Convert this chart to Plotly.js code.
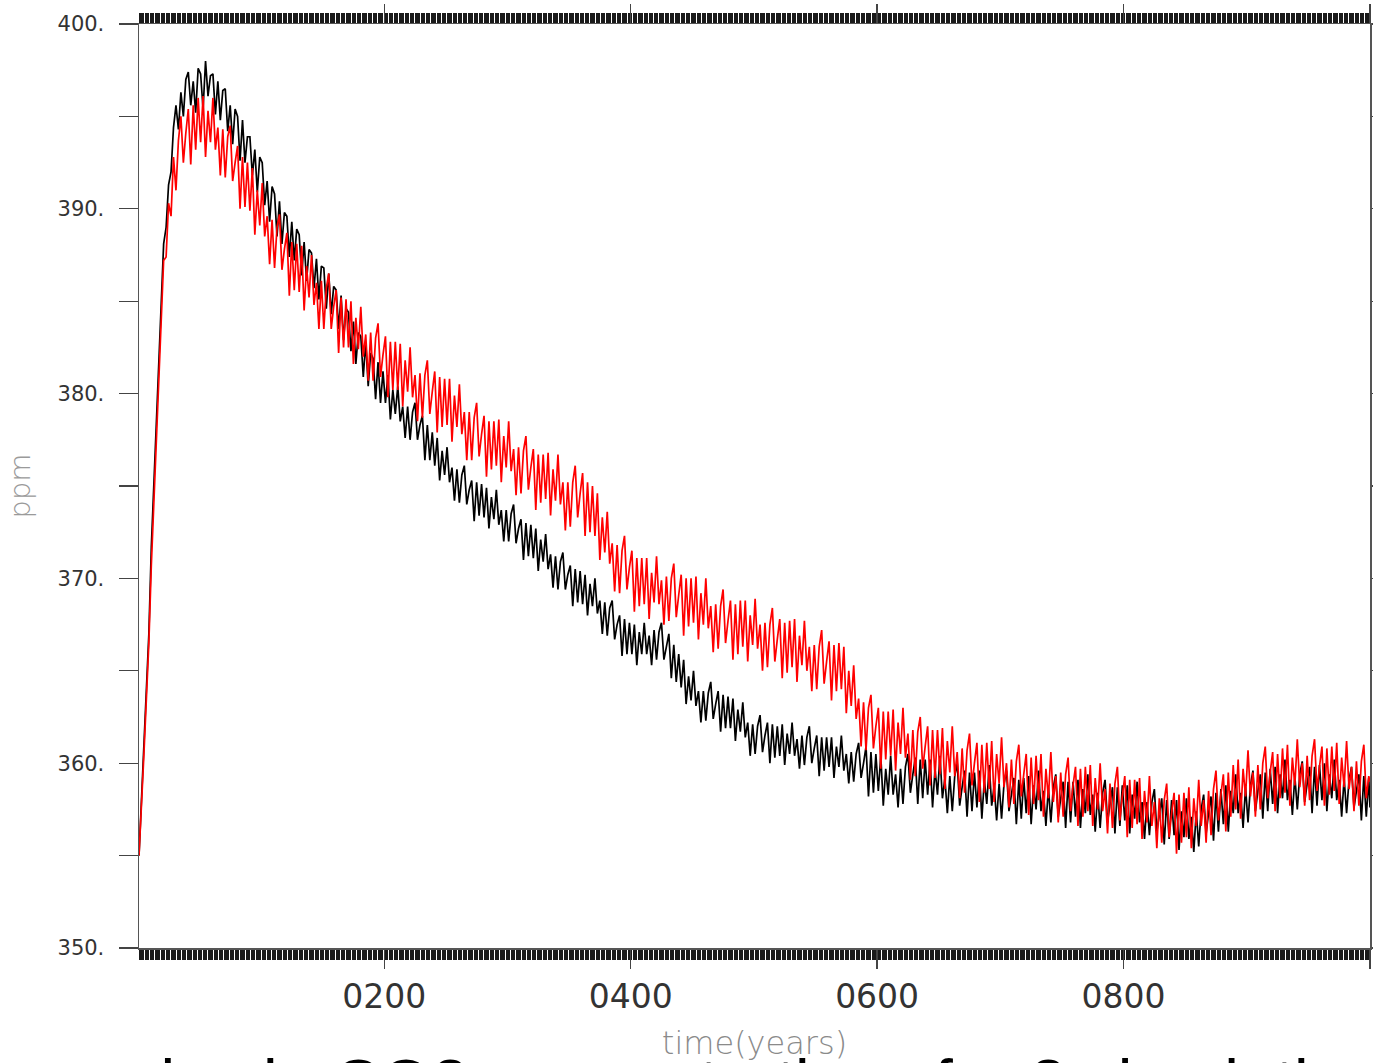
<!DOCTYPE html>
<html>
<head>
<meta charset="utf-8">
<script src="https://cdn.plot.ly/plotly-3.0.1.min.js"></script>
<style>
html,body{margin:0;padding:0;background:#fff;}
#chart{width:1373px;height:1063px;}
</style>
</head>
<body>
<div id="chart"></div>
<script>
// Sample years (every 2 years from year 1, plus year 1000)
const years = [];
for (let y = 1; y <= 999; y += 2) years.push(y);
years.push(1000);

// Simulation 1 (black) CO2, ppm
const co2Black = [
355.0, 358.0, 361.0, 364.0, 367.0,  371.7, 375.1, 378.5, 381.9, 385.3,
388.1, 389.0, 391.3, 392.0, 394.4,  395.6, 394.3, 396.3, 395.0, 397.0,
397.4, 395.6, 396.9, 395.2, 397.6,  397.3, 395.4, 398.0, 396.1, 397.2,
397.3, 395.1, 396.9, 394.8, 396.4,  396.5, 394.2, 395.6, 393.5, 395.4,
395.0, 392.6, 394.8, 392.5, 393.9,  393.9, 391.8, 393.2, 390.9, 392.8,
392.5, 390.2, 391.5, 389.3, 391.2,  390.8, 388.5, 390.4, 388.1, 389.8,
389.6, 387.4, 389.3, 387.2, 388.9,  388.6, 386.4, 388.2, 386.1, 387.8,
387.6, 385.7, 387.3, 385.1, 386.9,  386.8, 384.6, 386.5, 384.3, 385.8,
385.6, 383.5, 385.3, 382.9, 384.6,  384.4, 382.3, 383.9, 381.6, 383.3,
383.1, 380.9, 382.8, 380.4, 382.2,  381.9, 379.7, 381.7, 379.5, 381.2,
379.5, 381.0, 378.6, 380.2, 378.9,  380.4, 378.5, 379.3, 377.6, 379.3,
377.5, 379.0, 379.5, 377.5, 378.3,  378.8, 376.4, 378.3, 376.4, 377.9,
376.1, 377.6, 375.3, 376.9, 375.6,  377.1, 375.2, 376.0, 374.2, 375.9,
374.1, 375.6, 376.1, 374.0, 374.8,  375.3, 373.1, 375.2, 373.4, 375.1,
373.3, 374.9, 372.7, 374.4, 373.2,  374.8, 372.9, 373.7, 372.0, 373.7,
372.0, 373.5, 374.0, 371.9, 372.7,  373.2, 371.0, 373.0, 371.2, 372.9,
371.1, 372.7, 370.4, 372.1, 370.9,  372.4, 370.5, 371.3, 369.5, 371.2,
369.4, 370.9, 371.4, 369.4, 370.2,  370.7, 368.5, 370.5, 368.7, 370.4,
368.6, 370.2, 368.0, 369.7, 368.5,  370.0, 368.1, 368.8, 367.0, 368.7,
366.9, 368.4, 368.8, 366.7, 367.5,  368.0, 365.8, 367.8, 365.9, 367.6,
365.9, 367.5, 365.3, 367.1, 365.9,  367.6, 365.9, 366.9, 365.3, 367.2,
365.6, 367.1, 367.6, 365.6, 366.4,  367.0, 364.6, 366.4, 364.4, 365.9,
364.1, 365.6, 363.2, 364.7, 363.4,  365.0, 363.1, 363.9, 362.2, 363.9,
362.3, 363.8, 364.4, 362.4, 363.2,  363.9, 361.7, 363.7, 361.9, 363.6,
361.9, 363.5, 361.2, 362.9, 361.7,  363.3, 361.4, 362.2, 360.4, 362.1,
360.5, 362.0, 362.6, 360.6, 361.5,  362.2, 360.0, 362.1, 360.3, 362.0,
360.4, 362.1, 359.9, 361.6, 360.5,  362.2, 360.4, 361.3, 359.7, 361.5,
359.9, 361.4, 362.0, 360.0, 360.8,  361.5, 359.3, 361.4, 359.6, 361.4,
359.8, 361.4, 359.2, 360.9, 359.8,  361.5, 359.6, 360.5, 358.9, 360.6,
359.0, 360.5, 361.1, 359.2, 360.0,  360.9, 358.2, 360.6, 358.4, 360.5,
358.5, 360.4, 357.7, 359.7, 358.3,  360.4, 358.3, 359.4, 357.6, 359.7,
357.8, 359.8, 360.5, 358.4, 359.4,  360.3, 357.8, 360.2, 358.1, 360.2,
358.3, 360.2, 357.6, 359.7, 358.3,  360.4, 358.1, 359.2, 357.3, 359.3,
357.4, 359.3, 360.0, 357.7, 358.7,  359.6, 357.1, 359.5, 357.4, 359.5,
357.6, 359.6, 357.0, 359.1, 357.8,  359.9, 357.7, 358.8, 356.9, 358.9,
357.0, 358.9, 359.6, 357.4, 358.3,  359.2, 356.7, 359.1, 357.0, 359.2,
357.3, 359.3, 356.7, 358.8, 357.5,  359.6, 357.4, 358.5, 356.6, 358.7,
356.8, 358.7, 359.4, 357.1, 358.1,  359.0, 356.5, 359.0, 356.8, 359.0,
357.1, 359.1, 356.5, 358.6, 357.3,  359.4, 357.2, 358.3, 356.3, 358.4,
356.5, 358.4, 359.1, 356.8, 357.8,  358.7, 356.2, 358.7, 356.6, 358.8,
356.9, 358.8, 356.2, 358.3, 357.0,  359.0, 356.8, 357.9, 355.9, 357.9,
356.1, 357.9, 358.6, 356.3, 357.2,  358.1, 355.6, 358.0, 355.9, 358.0,
356.1, 358.0, 355.3, 357.4, 356.0,  358.1, 355.9, 357.1, 355.2, 357.4,
355.5, 357.5, 358.3, 356.2, 357.3,  358.2, 355.8, 358.4, 356.3, 358.6,
356.7, 358.8, 356.3, 358.5, 357.3,  359.4, 357.3, 358.4, 356.5, 358.7,
356.8, 358.8, 359.6, 357.4, 358.5,  359.4, 357.0, 359.5, 357.4, 359.7,
357.8, 359.8, 357.3, 359.4, 358.1,  360.2, 358.0, 359.1, 357.2, 359.3,
357.5, 359.4, 360.1, 357.9, 358.9,  359.8, 357.3, 359.8, 357.7, 359.9,
358.0, 360.0, 357.4, 359.4, 358.1,  360.2, 358.0, 359.1, 357.1, 359.2,
357.3, 359.1, 359.8, 357.6, 358.5,  359.4, 356.9, 359.3, 357.1, 359.2,
357.6
];

// Simulation 2 (red) CO2, ppm
const co2Red = [
355.0, 357.5, 360.5, 363.5, 366.5,  370.7, 374.1, 377.5, 380.9, 384.3,
387.2, 387.4, 390.3, 389.6, 392.8,  391.0, 393.7, 395.0, 392.5, 394.1,
395.4, 392.4, 395.6, 393.2, 396.0,  393.6, 396.1, 392.8, 395.3, 393.6,
396.0, 393.2, 394.4, 391.8, 394.3,  391.7, 393.9, 394.5, 391.5, 392.5,
393.4, 390.0, 392.8, 390.1, 392.5,  389.9, 392.2, 388.6, 391.0, 389.1,
391.4, 388.5, 389.6, 387.0, 389.4,  386.8, 389.0, 389.7, 386.7, 387.8,
388.7, 385.3, 388.2, 385.6, 388.1,  385.5, 388.0, 384.5, 386.9, 385.2,
387.5, 384.8, 386.0, 383.5, 386.1,  383.5, 385.7, 386.5, 383.5, 384.7,
385.6, 382.2, 385.2, 382.5, 385.1,  382.5, 385.0, 381.6, 384.1, 382.4,
384.7, 382.0, 383.2, 380.7, 383.3,  380.7, 383.0, 383.8, 380.9, 382.1,
383.1, 379.8, 382.8, 380.2, 382.8,  380.2, 382.7, 379.3, 381.8, 380.1,
382.5, 379.8, 381.0, 378.5, 381.1,  378.7, 381.0, 381.8, 378.9, 380.1,
381.2, 377.9, 380.9, 378.2, 380.8,  378.3, 380.8, 377.4, 379.9, 378.2,
380.5, 377.8, 379.0, 376.4, 379.0,  376.4, 378.7, 379.5, 376.6, 377.8,
378.8, 375.5, 378.5, 375.9, 378.5,  376.1, 378.6, 375.2, 377.7, 376.0,
378.5, 375.8, 377.0, 374.5, 377.1,  374.6, 376.9, 377.7, 374.8, 376.0,
377.0, 373.7, 376.7, 374.1, 376.7,  374.3, 376.8, 373.4, 375.9, 374.2,
376.7, 374.0, 375.2, 372.6, 375.2,  372.8, 375.2, 376.1, 373.3, 374.6,
375.7, 372.3, 375.2, 372.5, 375.0,  372.3, 374.6, 371.0, 373.3, 371.4,
373.6, 370.8, 371.9, 369.3, 371.8,  369.2, 371.5, 372.3, 369.4, 370.6,
371.5, 368.2, 371.1, 368.5, 371.1,  368.6, 371.1, 367.8, 370.3, 368.7,
371.2, 368.6, 369.9, 367.5, 370.1,  367.7, 370.0, 370.8, 367.9, 369.1,
370.2, 366.9, 370.0, 367.4, 370.0,  367.6, 370.1, 366.7, 369.2, 367.5,
370.0, 367.3, 368.5, 366.0, 368.6,  366.2, 368.5, 369.4, 366.5, 367.7,
368.8, 365.6, 368.6, 365.9, 368.8,  366.3, 368.8, 365.5, 368.0, 366.4,
368.9, 366.2, 367.5, 365.0, 367.6,  365.2, 367.5, 368.4, 365.5, 366.7,
367.8, 364.6, 367.6, 364.9, 367.7,  365.2, 367.8, 364.4, 366.9, 365.3,
367.7, 365.0, 366.3, 363.9, 366.4,  364.0, 366.3, 367.2, 364.3, 365.5,
366.6, 363.4, 366.4, 363.9, 366.5,  364.0, 366.3, 362.7, 365.0, 363.1,
365.3, 362.4, 363.5, 360.9, 363.3,  360.7, 363.0, 363.7, 360.8, 362.0,
363.0, 359.7, 362.8, 360.2, 362.8,  360.4, 362.9, 359.6, 362.2, 360.5,
363.0, 360.3, 361.6, 359.1, 361.8,  359.3, 361.7, 362.5, 359.7, 360.9,
362.0, 358.8, 361.8, 359.2, 361.8,  359.4, 361.9, 358.6, 361.2, 359.5,
362.0, 359.3, 360.6, 358.1, 360.8,  358.4, 360.7, 361.6, 358.8, 360.0,
361.1, 357.9, 361.0, 358.4, 361.1,  358.6, 361.2, 357.9, 360.5, 358.9,
361.4, 358.7, 360.0, 357.6, 360.2,  357.8, 360.1, 361.0, 358.2, 359.4,
360.5, 357.2, 360.3, 357.8, 360.4,  358.0, 360.5, 357.1, 359.7, 358.1,
360.6, 357.9, 359.3, 356.8, 359.5,  357.1, 359.4, 360.3, 357.4, 358.8,
359.8, 356.6, 359.7, 357.1, 359.8,  357.4, 359.9, 356.6, 359.2, 357.5,
360.0, 357.4, 358.6, 356.2, 358.9,  356.5, 358.9, 359.8, 356.9, 358.2,
359.3, 356.0, 359.1, 356.5, 359.1,  356.7, 359.2, 355.9, 358.5, 356.8,
359.3, 356.6, 357.9, 355.4, 358.1,  355.7, 358.0, 358.9, 356.0, 357.3,
358.4, 355.1, 358.3, 355.7, 358.4,  356.0, 358.7, 355.4, 358.1, 356.6,
359.1, 356.6, 358.0, 355.7, 358.5,  356.1, 358.6, 359.6, 356.9, 358.3,
359.4, 356.3, 359.5, 357.1, 359.9,  357.5, 360.2, 357.0, 359.7, 358.2,
360.7, 358.2, 359.5, 357.1, 359.9,  357.5, 360.0, 360.9, 358.1, 359.5,
360.6, 357.4, 360.5, 358.1, 360.8,  358.4, 361.0, 357.7, 360.3, 358.8,
361.3, 358.7, 360.0, 357.7, 360.4,  358.0, 360.4, 361.3, 358.5, 359.8,
360.9, 357.7, 360.8, 358.3, 360.9,  358.5, 361.1, 357.8, 360.3, 358.7,
361.2, 358.6, 359.8, 357.4, 360.1,  357.7, 360.1, 361.0, 358.1, 359.3,
359.0
];

// Axis ticks
const xTickVals = [200, 400, 600, 800, 1000];
const xTickText = ['0200', '0400', '0600', '0800', ''];
const yTickVals = [350, 355, 360, 365, 370, 375, 380, 385, 390, 395, 400];
const yTickText = ['350.', '', '360.', '', '370.', '', '380.', '', '390.', '', '400.'];

const traces = [
  {x: years, y: co2Black, type: 'scatter', mode: 'lines',
   line: {color: '#000000', width: 1.7}, hoverinfo: 'skip'},
  {x: years, y: co2Red, type: 'scatter', mode: 'lines',
   line: {color: '#ff0000', width: 1.7}, hoverinfo: 'skip'}
];

const layout = {
  width: 1373, height: 1063,
  margin: {l: 139, r: 3, t: 24, b: 115},
  paper_bgcolor: '#ffffff', plot_bgcolor: '#ffffff',
  showlegend: false,
  xaxis: {
    range: [1, 1000], showgrid: false, zeroline: false,
    showline: true, linecolor: '#555', linewidth: 1.5, mirror: 'ticks',
    ticks: 'outside', ticklen: 19, tickwidth: 1.3, tickcolor: '#444',
    tickvals: xTickVals, ticktext: xTickText, ticklabelstandoff: 0,
    tickfont: {family: 'DejaVu Sans', size: 33, color: '#333'},
    minor: {dtick: 1, tick0: 0, ticks: 'outside', ticklen: 10, tickwidth: 1, tickcolor: '#1a1a1a', showgrid: false},
    title: {text: 'time(years)', font: {family: 'DejaVu Sans', size: 32, color: '#8a8a8a', weight: 300}, standoff: 16}
  },
  yaxis: {
    range: [350, 400], showgrid: false, zeroline: false,
    showline: true, linecolor: '#555', linewidth: 1.5, mirror: 'ticks',
    ticks: 'outside', ticklen: 19, tickwidth: 1.3, tickcolor: '#444',
    tickvals: yTickVals, ticktext: yTickText, ticklabelstandoff: 10,
    tickfont: {family: 'DejaVu Sans', size: 21, color: '#333'},
    title: {text: 'ppm', font: {family: 'DejaVu Sans', size: 29, color: '#9a9a9a', weight: 300}, standoff: 18}
  },
  annotations: [{
    text: 'samples in CO2 concentrations for 2 simulations',
    xref: 'paper', yref: 'paper',
    x: (-3 - 139) / 1231, y: (948 - 1044) / 924,
    xanchor: 'left', yanchor: 'top', showarrow: false,
    font: {family: 'Liberation Sans', size: 66, color: '#000'}
  }]
};

Plotly.newPlot('chart', traces, layout, {staticPlot: true, displayModeBar: false});
</script>
</body>
</html>
